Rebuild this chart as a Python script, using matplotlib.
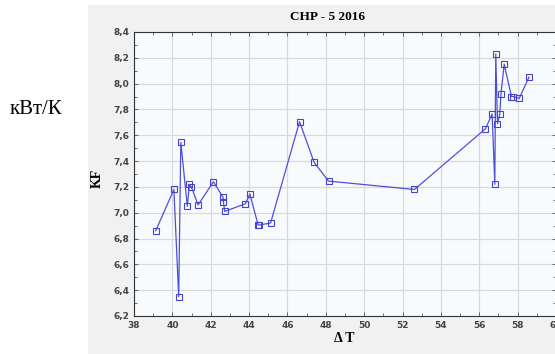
import matplotlib
matplotlib.use("Agg")
import matplotlib.pyplot as plt
from matplotlib.ticker import MultipleLocator, FuncFormatter

delta_t = [39.13, 40.08, 40.33, 40.44, 40.78, 40.89, 40.99, 41.34, 42.14,
           42.64, 42.66, 42.73, 43.81, 44.04, 44.47, 44.53, 45.12, 46.63,
           47.39, 48.14, 52.62, 56.32, 56.67, 56.81, 56.86, 56.95, 57.07,
           57.13, 57.30, 57.68, 57.78, 58.08, 58.59]
kf = [6.86, 7.18, 6.35, 7.545, 7.05, 7.22, 7.20, 7.06, 7.24,
      7.12, 7.085, 7.01, 7.07, 7.145, 6.905, 6.905, 6.92, 7.705,
      7.39, 7.245, 7.18, 7.65, 7.765, 7.22, 8.23, 7.69, 7.765,
      7.92, 8.15, 7.90, 7.90, 7.885, 8.05]

title = "CHP - 5 2016"
xlabel = "\u0394 T"
ylabel = "KF"
unit = "кВт/К"

fig = plt.figure(figsize=(5.55, 3.54), dpi=100)
fig.patch.set_facecolor("white")

bg = fig.add_axes([88/555, 0, 1 - 88/555, (354-5)/354], zorder=-1)
bg.set_axis_off()
bg.add_patch(plt.Rectangle((0, 0), 1, 1, transform=bg.transAxes,
                           facecolor="#f1f1f1", edgecolor="none"))

ax = fig.add_axes([134/555, 38/354, (556-134)/555, (316-32)/354], zorder=1)
ax.set_facecolor("#f8fbfd")
ax.plot(delta_t, kf, color="#5050d4", lw=0.9, marker="s", ms=3.8,
        mfc="none", mec="#4545cc", mew=0.8, zorder=3)

ax.set_xlim(38, 60)
ax.set_ylim(6.2, 8.4)
ax.xaxis.set_major_locator(MultipleLocator(2))
ax.yaxis.set_major_locator(MultipleLocator(0.2))
ax.xaxis.set_minor_locator(MultipleLocator(1))
ax.yaxis.set_minor_locator(MultipleLocator(0.1))
ax.yaxis.set_major_formatter(FuncFormatter(lambda v, p: f"{v:.1f}".replace(".", ",")))
ax.xaxis.set_major_formatter(FuncFormatter(lambda v, p: f"{v:.0f}"))
ax.grid(True, which="major", color="#d9d9d9", lw=0.9)
ax.tick_params(which="both", direction="in", top=True, right=True, length=3,
               width=0.6, colors="#555555", labelsize=6.5, labelcolor="#444444")
ax.tick_params(which="minor", length=2)
for lab in ax.get_xticklabels() + ax.get_yticklabels():
    lab.set_fontweight("bold")
for s in ax.spines.values():
    s.set_color("#333333")
    s.set_linewidth(0.8)

fig.text(327/555, 1 - 17/354, title, fontsize=9.5, fontweight="bold",
         family="Liberation Serif", ha="center", va="center")
fig.text(344/555, 1 - 338/354, xlabel, fontsize=10, fontweight="bold",
         family="Liberation Serif", ha="center", va="center")
fig.text(97/555, 1 - 178/354, ylabel, fontsize=10, fontweight="bold",
         family="Liberation Serif", ha="center", va="center", rotation=90)

fig.text(10/555, 1 - 110/354, unit, fontsize=15, family="Liberation Serif",
         va="center", ha="left")

fig.savefig("out.png", dpi=100)
